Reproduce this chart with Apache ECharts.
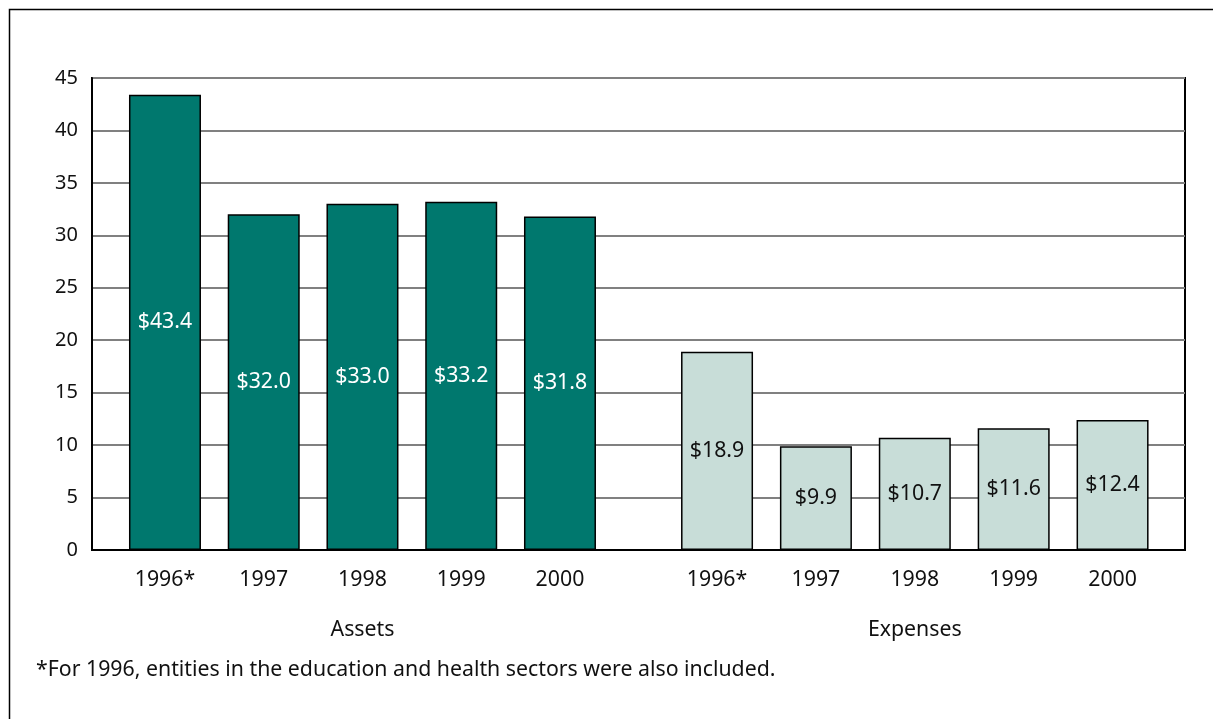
<!DOCTYPE html>
<html><head><meta charset="utf-8">
<script src="https://cdn.jsdelivr.net/npm/echarts@6/dist/echarts.min.js"></script>
<style>html,body{margin:0;padding:0;background:#fff}#c{width:1213px;height:719px}</style>
</head><body><div id="c"></div>
<script>
const years = ['1996*', '1997', '1998', '1999', '2000'];
const assets = [43.4, 32.0, 33.0, 33.2, 31.8];
const expenses = [18.9, 9.9, 10.7, 11.6, 12.4];
const groupNames = ['Assets', 'Expenses'];
const yTicks = {min: 0, max: 45, interval: 5};
const footnote = '*For 1996, entities in the education and health sectors were also included.';

(function () {
const FONT = 'Noto Sans';
const FS = 21.3;
const chart = echarts.init(document.getElementById('c'), null, {renderer: 'canvas'});
const gTop = 78, gHeight = 472;
const catAxis = (gi, name) => ({
  type: 'category', gridIndex: gi, data: years,
  axisLine: {show: false}, axisTick: {show: false},
  axisLabel: {fontFamily: FONT, fontSize: FS, color: '#111', margin: 19},
  name: name, nameLocation: 'middle', nameGap: 69,
  nameTextStyle: {fontFamily: FONT, fontSize: FS, color: '#111'}
});
const hiddenY = gi => ({type: 'value', gridIndex: gi, min: yTicks.min, max: yTicks.max, interval: yTicks.interval, show: false});
const lbl = color => ({show: true, position: 'inside', fontFamily: FONT, fontSize: FS, color: color,
  formatter: p => '$' + p.value.toFixed(1)});

chart.setOption({
  animation: false,
  graphic: [{type: 'rect', shape: {x: 9.5, y: 9.5, width: 1300, height: 800}, style: {fill: 'none', stroke: '#000', lineWidth: 1.5}, silent: true}],
  title: {text: footnote, left: 31, top: 654, textStyle: {fontFamily: FONT, fontSize: FS, fontWeight: 'normal', color: '#111'}},
  grid: [
    {left: 92, top: gTop, width: 1093, height: gHeight, show: true, borderColor: '#000', borderWidth: 2, backgroundColor: 'transparent'},
    {left: 115.6, top: gTop, width: 493.75, height: gHeight},
    {left: 667.6, top: gTop, width: 494.4, height: gHeight}
  ],
  xAxis: [
    {type: 'value', gridIndex: 0, show: true, axisLabel: {show: false}, splitLine: {show: false}, axisTick: {show: false}, axisLine: {show: true, lineStyle: {color: '#000', width: 2}}},
    catAxis(1, groupNames[0]),
    catAxis(2, groupNames[1])
  ],
  yAxis: [
    {type: 'value', gridIndex: 0, min: yTicks.min, max: yTicks.max, interval: yTicks.interval,
      axisLine: {show: true, lineStyle: {color: '#000', width: 2}}, axisTick: {show: false},
      axisLabel: {fontFamily: FONT, fontSize: 20, color: '#111', margin: 14},
      splitLine: {show: true, lineStyle: {color: '#808080', width: 2}}},
    hiddenY(1), hiddenY(2)
  ],
  series: [
    {type: 'bar', xAxisIndex: 1, yAxisIndex: 1, data: assets, barWidth: 72,
      itemStyle: {color: '#00786e', borderColor: '#000', borderWidth: 1.5}, label: lbl('#fff')},
    {type: 'bar', xAxisIndex: 2, yAxisIndex: 2, data: expenses, barWidth: 72,
      itemStyle: {color: '#c8ddd8', borderColor: '#000', borderWidth: 1.5}, label: lbl('#111')}
  ]
});
})();
</script></body></html>
